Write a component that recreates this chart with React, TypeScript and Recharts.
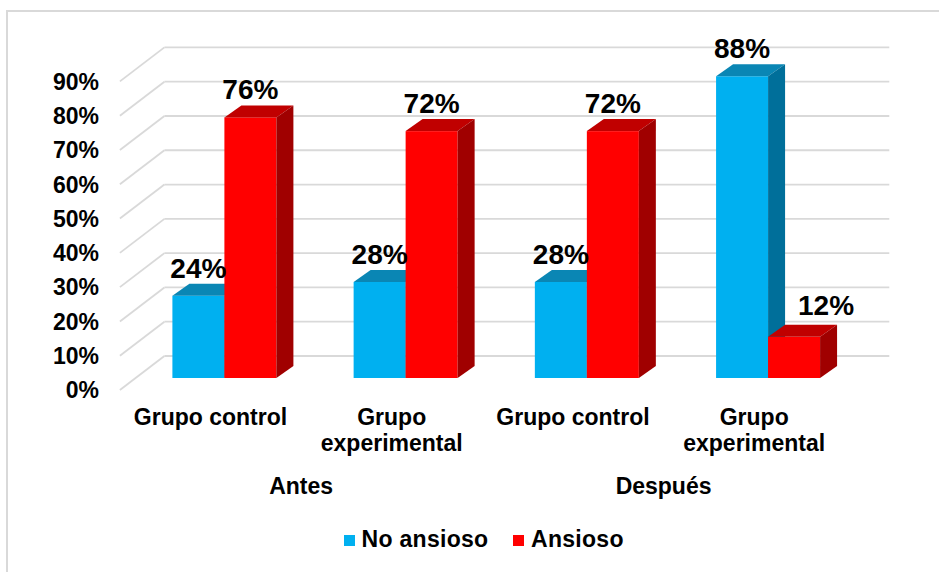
import React from 'react'
import { BarChart, Bar, XAxis, YAxis, CartesianGrid, Legend, LabelList } from 'recharts'

const groups = ['Grupo control', 'Grupo experimental', 'Grupo control', 'Grupo experimental']
const periods = ['Antes', 'Antes', 'Después', 'Después']
const noAnsioso = [24, 28, 28, 88]
const ansioso = [76, 72, 72, 12]
const yTicks = [0, 10, 20, 30, 40, 50, 60, 70, 80, 90]
const seriesNames = ['No ansioso', 'Ansioso']
const seriesColors = ['#00B0F0', '#FF0000']

const data = groups.map((g, i) => ({ group: g, period: periods[i], noAnsioso: noAnsioso[i], ansioso: ansioso[i] }))

const FONT = "'Liberation Sans', Arial, sans-serif"
const GRID = '#d9d9d9'
// fake 3d: bar depth, floor front edge and back wall, relative to the bar plane
const DX = 17, DY = 12
const FX = -13.5, FY = 12
const BX = 31, BY = -22

const make3D = (front: string, top: string, side: string) => (props: any) => {
  const { x, y, width: w, height: h } = props
  if (h == null || w == null) return null
  return (
    <g>
      <rect x={x} y={y} width={w} height={h} fill={front} />
      <polygon points={`${x},${y} ${x + DX},${y - DY} ${x + w + DX},${y - DY} ${x + w},${y}`} fill={top} />
      <polygon points={`${x + w},${y} ${x + w + DX},${y - DY} ${x + w + DX},${y + h - DY} ${x + w},${y + h}`} fill={side} />
    </g>
  )
}

// label moves right when the bar on its left is taller (its side face is in the way)
const valueLabel = (leftNeighbour: number[] | null) => (props: any) => {
  const { x, y, width, value, index } = props
  const blocked = leftNeighbour != null && leftNeighbour[index] > value
  const cx = x + width / 2 + (blocked ? 32 : 0)
  const by = y - DY - (blocked ? 10 : 6)
  return (
    <text x={cx} y={by} textAnchor="middle" fontFamily={FONT} fontSize={28} fontWeight="bold" fill="#000">
      {value}%
    </text>
  )
}

const wallLine = (props: any) => {
  const { x1, x2, y1, key } = props
  return (
    <g key={key}>
      <line x1={x1 + FX} y1={y1 + FY} x2={x1 + BX} y2={y1 + BY} stroke={GRID} strokeWidth={1.8} />
      <line x1={x1 + BX} y1={y1 + BY} x2={x2 + BX} y2={y1 + BY} stroke={GRID} strokeWidth={1.8} />
    </g>
  )
}

const YTick = ({ x, y, payload }: any) => (
  <text x={x} y={y + FY + 8.3} textAnchor="end" fontFamily={FONT} fontSize={23} fontWeight="bold" fill="#000">
    {payload.value}%
  </text>
)

const GroupTick = ({ x, y, payload }: any) => {
  const lines = payload.value.length > 14 ? payload.value.split(' ') : [payload.value]
  return (
    <text textAnchor="middle" fontFamily={FONT} fontSize={23} fontWeight="bold" fill="#000">
      {lines.map((l: string, i: number) => (
        <tspan key={i} x={x + FX} y={y + 47 + i * 26}>{l}</tspan>
      ))}
    </text>
  )
}

const PeriodTick = ({ x, y, payload }: any) => (
  <text x={x + FX} y={y + 36} textAnchor="middle" fontFamily={FONT} fontSize={23} fontWeight="bold" fill="#000">
    {payload.value}
  </text>
)

const LegendContent = () => (
  <div style={{ display: 'flex', fontFamily: FONT, fontSize: 23, fontWeight: 'bold', lineHeight: '26px', color: '#000' }}>
    {seriesNames.map((name, i) => (
      <div key={name} style={{ display: 'flex', alignItems: 'flex-start', marginRight: 25 }}>
        <div style={{ width: 11, height: 11, background: seriesColors[i], marginTop: 9.5, marginRight: 6.5 }} />
        <span style={{ letterSpacing: 0.3 }}>{name}</span>
      </div>
    ))}
  </div>
)

export default function App() {
  return (
    <div style={{ position: 'absolute', left: 0, top: 0, width: 939, height: 572, background: '#fff', overflow: 'hidden' }}>
      <div style={{ position: 'absolute', left: 6, top: 10, width: 960, height: 600, borderLeft: `2px solid ${GRID}`, borderTop: `2px solid ${GRID}` }} />
      <div style={{ position: 'absolute', left: 0, top: 0 }}>
        <BarChart width={939} height={572} data={data} barSize={52} barGap={0}
          margin={{ top: 69.4, right: 80.7, left: 0, bottom: 54 }}>
          <CartesianGrid vertical={false} horizontal={wallLine} />
          <XAxis dataKey="group" height={80} axisLine={false} tickLine={false} tickSize={0} tickMargin={0}
            tick={<GroupTick />} interval={0} />
          <XAxis xAxisId="period" dataKey="period" allowDuplicatedCategory={false} height={60}
            axisLine={false} tickLine={false} tickSize={0} tickMargin={0} tick={<PeriodTick />} interval={0} />
          <YAxis domain={[0, 90]} ticks={yTicks} width={133.4} axisLine={false} tickLine={false}
            tickSize={0} tickMargin={34.4} tick={<YTick />} interval={0} />
          <Legend verticalAlign="middle" align="center" layout="horizontal" content={<LegendContent />}
            wrapperStyle={{ left: 344, top: 525.7, width: 340 }} />
          <Bar dataKey="noAnsioso" name={seriesNames[0]} fill={seriesColors[0]} isAnimationActive={false}
            shape={make3D(seriesColors[0], '#0A86B4', '#006F9A')}>
            <LabelList dataKey="noAnsioso" content={valueLabel(null)} />
          </Bar>
          <Bar dataKey="ansioso" name={seriesNames[1]} fill={seriesColors[1]} isAnimationActive={false}
            shape={make3D(seriesColors[1], '#C00000', '#A00000')}>
            <LabelList dataKey="ansioso" content={valueLabel(noAnsioso)} />
          </Bar>
        </BarChart>
      </div>
    </div>
  )
}
